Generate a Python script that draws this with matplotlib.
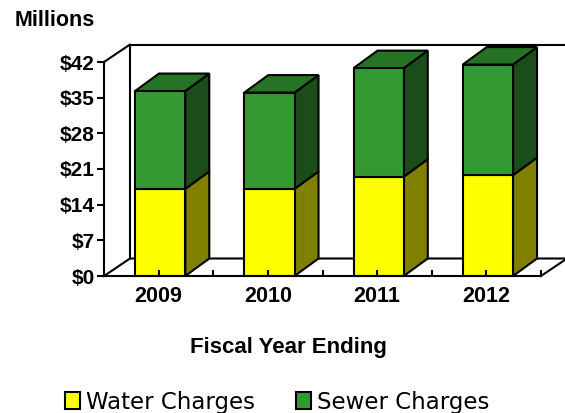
import matplotlib
matplotlib.use('Agg')
import numpy as np
import matplotlib.pyplot as plt
from matplotlib.patches import Polygon, Patch

years = ['2009', '2010', '2011', '2012']
water = [17.1, 17.1, 19.5, 19.8]
sewer = [19.2, 18.9, 21.3, 21.7]
yticks = [0, 7, 14, 21, 28, 35, 42]
ylabels = ['$0', '$7', '$14', '$21', '$28', '$35', '$42']

W, H = 565, 413
plt.rcParams['font.family'] = ['Liberation Sans', 'DejaVu Sans']

fig = plt.figure(figsize=(W / 100, H / 100), dpi=100)
ax = fig.add_axes([104 / W, (H - 276) / H, 437 / W, 214 / H])
ax.set_xlim(0, 4)
ax.set_ylim(0, 42)

# 3d depth, converted from pixels to data units
dx = 24 / (437 / 4)
dy = 17.5 / (214 / 42)
wall_x = 26 / (437 / 4)
wall_y = 17.5 / (214 / 42)
bar_w = 0.46
lw = 1.5

# back wall and floor
ax.plot([0, wall_x, wall_x, 4 + wall_x], [42, 42 + wall_y, wall_y, wall_y], color='black', lw=lw, zorder=0.5, clip_on=False)
ax.plot([wall_x, 4 + wall_x], [42 + wall_y, 42 + wall_y], color='black', lw=lw, zorder=0.5, clip_on=False)
ax.plot([0, wall_x], [0, wall_y], color='black', lw=lw, zorder=0.5, clip_on=False)
ax.plot([4, 4 + wall_x], [0, wall_y], color='black', lw=lw, zorder=0.5, clip_on=False)


def draw_bar(center, bottom, height, front, top_c, side_c, with_top=True):
    x0 = center - bar_w / 2
    x1 = center + bar_w / 2
    y1 = bottom + height
    ax.bar(center, height, bar_w, bottom=bottom, color=front, edgecolor='black', linewidth=lw, zorder=1.5, clip_on=False)
    ax.add_patch(Polygon([(x1, bottom), (x1 + dx, bottom + dy), (x1 + dx, y1 + dy), (x1, y1)],
                         facecolor=side_c, edgecolor='black', lw=lw, zorder=1.4, clip_on=False))
    if with_top:
        ax.add_patch(Polygon([(x0, y1), (x0 + dx, y1 + dy), (x1 + dx, y1 + dy), (x1, y1)],
                             facecolor=top_c, edgecolor='black', lw=lw, zorder=1.4, clip_on=False))


for i in range(len(years)):
    c = i + 0.5 + 0.014
    draw_bar(c, 0, water[i], '#FFFF00', '#808000', '#808000', with_top=False)
    draw_bar(c, water[i], sewer[i], '#339933', '#267326', '#1A4D1A')

for s in ['top', 'right']:
    ax.spines[s].set_visible(False)
for s in ['left', 'bottom']:
    ax.spines[s].set_linewidth(lw)
ax.patch.set_visible(False)
ax.set_axisbelow(False)

ax.set_yticks(yticks)
ax.set_yticklabels(ylabels, fontsize=15, fontweight='bold')
ax.tick_params(axis='y', length=5, width=lw, pad=1.5)

xt = np.arange(0.5, 4.5, 0.5)
ax.set_xticks(xt)
ax.set_xticklabels([years[int(t)] if t % 1 == 0.5 else '' for t in xt], fontsize=15.5, fontweight='bold')
ax.tick_params(axis='x', direction='in', length=4.3, width=lw, pad=7.5)

fig.text(15 / W, 1 - 20 / H, 'Millions', fontsize=15.5, fontweight='bold', va='center', ha='left')
fig.text(288 / W, 1 - 347 / H, 'Fiscal Year Ending', fontsize=16, fontweight='bold', va='center', ha='center')

handles = [Patch(facecolor='#FFFF00', edgecolor='black', lw=lw, label='Water Charges'),
           Patch(facecolor='#339933', edgecolor='black', lw=lw, label='Sewer Charges')]
fig.legend(handles=handles, ncol=2, loc='center left', bbox_to_anchor=(65 / W, 1 - 402 / H), frameon=False,
           prop={'family': 'DejaVu Sans', 'size': 16.5}, handlelength=0.65, handleheight=0.7, handletextpad=0.26,
           columnspacing=1.8, borderpad=0, borderaxespad=0)

fig.savefig('out.png', dpi=100)
